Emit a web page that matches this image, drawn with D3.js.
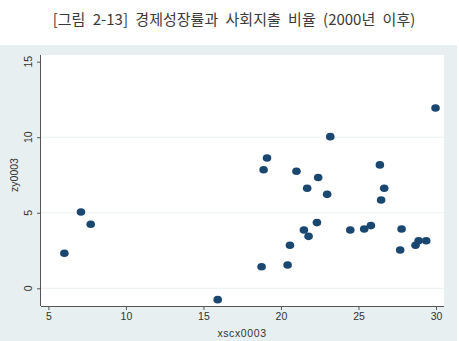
<!DOCTYPE html>
<html>
<head>
<meta charset="utf-8">
<script src="https://cdn.jsdelivr.net/npm/d3@7"></script>
<style>
  html, body { margin: 0; padding: 0; background: #ffffff; }
  svg { display: block; }
</style>
</head>
<body>
<script>
const title = "[그림 2-13] 경제성장률과 사회지출 비율 (2000년 이후)";
const xLabel = "xscx0003";
const yLabel = "zy0003";
const xTicks = [5, 10, 15, 20, 25, 30];
const yTicks = [0, 5, 10, 15];
const xValues = [6.03, 7.10, 7.73, 15.92, 29.97, 23.18, 19.10, 18.88, 21.00, 26.38,
                 22.40, 21.69, 22.98, 26.66, 26.46, 22.32, 21.48, 21.78, 20.58, 18.75,
                 20.43, 24.47, 25.37, 25.80, 27.78, 27.69, 28.68, 28.88, 29.37];
const yValues = [2.32, 5.05, 4.24, -0.75, 11.94, 10.04, 8.63, 7.85, 7.75, 8.17,
                 7.33, 6.62, 6.22, 6.62, 5.85, 4.35, 3.86, 3.44, 2.85, 1.43,
                 1.54, 3.86, 3.93, 4.15, 3.93, 2.54, 2.85, 3.15, 3.15];

const W = 459, H = 341;
const svg = d3.select("body").append("svg").attr("width", W).attr("height", H);

// outer graph region
svg.append("rect").attr("x", 0).attr("y", 45).attr("width", 457).attr("height", H - 45)
  .attr("fill", "#e7eff1");

const plot = { left: 41, right: 444, top: 55, bottom: 306 };
svg.append("rect").attr("x", plot.left).attr("y", plot.top)
  .attr("width", plot.right - plot.left).attr("height", plot.bottom - plot.top)
  .attr("fill", "#ffffff");

const x = d3.scaleLinear().domain([5, 30]).range([48.4, 436]);
const y = d3.scaleLinear().domain([0, 15]).range([288.3, 61.7]);

// gridlines
svg.append("g").selectAll("line").data(yTicks.filter(d => d < 15)).join("line")
  .attr("x1", plot.left).attr("x2", plot.right)
  .attr("y1", d => y(d)).attr("y2", d => y(d))
  .attr("stroke", "#eaf1f3").attr("stroke-width", 1);

// title
svg.append("text").attr("x", 234).attr("y", 25).attr("text-anchor", "middle")
  .attr("font-family", "'Noto Sans CJK KR', sans-serif").attr("font-size", 15)
  .attr("word-spacing", 4).attr("fill", "#3a3a3a").text(title);

// axes
const xAxis = d3.axisBottom(x).tickValues(xTicks).tickSize(4).tickPadding(3).tickFormat(d3.format("d"));
const gx = svg.append("g").attr("transform", `translate(0,${plot.bottom})`).call(xAxis);
gx.select(".domain").attr("d", `M${plot.left},0.5H${plot.right}`);

const yAxis = d3.axisLeft(y).tickValues(yTicks).tickSize(4).tickPadding(3).tickFormat(d3.format("d"));
const gy = svg.append("g").attr("transform", `translate(${plot.left},0)`).call(yAxis);
gy.select(".domain").attr("d", `M-0.5,${plot.top}V${plot.bottom}`);
gy.selectAll(".tick text")
  .attr("transform", function(d) { return `rotate(-90,-12,${y(d)})`; })
  .attr("x", -12).attr("dy", "0.32em").attr("text-anchor", "middle")
  .attr("y", d => y(d))
  .each(function(d) { d3.select(this.parentNode).attr("transform", null); });
gy.selectAll(".tick line").attr("y1", d => y(d) + 0.5).attr("y2", d => y(d) + 0.5);

[gx, gy].forEach(g => {
  g.selectAll(".domain").attr("stroke", "#555");
  g.selectAll(".tick line").attr("stroke", "#555");
  g.selectAll(".tick text").attr("font-family", "'Liberation Sans', Arial, sans-serif")
    .attr("font-size", 10.5).attr("fill", "#333");
});

// axis titles
svg.append("text").attr("x", 242).attr("y", 337).attr("text-anchor", "middle")
  .attr("font-family", "'Liberation Sans', Arial, sans-serif").attr("font-size", 10.5)
  .attr("letter-spacing", 0.6).attr("fill", "#333").text(xLabel);
svg.append("text").attr("transform", "translate(18,175) rotate(-90)").attr("text-anchor", "middle")
  .attr("font-family", "'Liberation Sans', Arial, sans-serif").attr("font-size", 10.5)
  .attr("fill", "#333").text(yLabel);

// points
const pts = xValues.map((v, i) => ({ x: v, y: yValues[i] }));
svg.append("g").selectAll("ellipse").data(pts).join("ellipse")
  .attr("cx", d => x(d.x)).attr("cy", d => y(d.y))
  .attr("rx", 4.3).attr("ry", 3.8)
  .attr("fill", "#1a476f");
</script>
</body>
</html>
